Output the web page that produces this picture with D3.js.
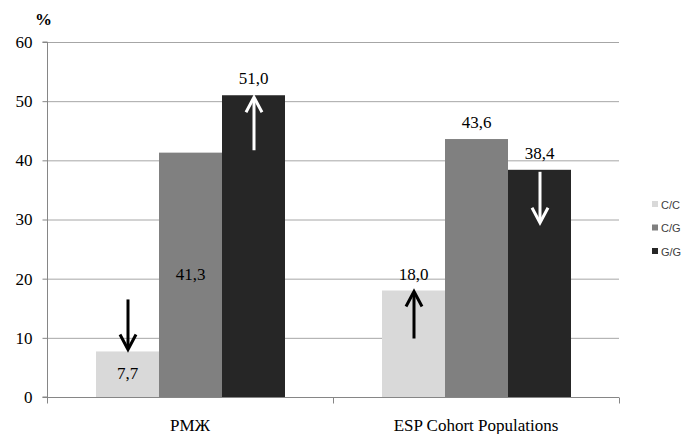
<!DOCTYPE html>
<html><head><meta charset="utf-8">
<script src="https://cdn.jsdelivr.net/npm/d3@7"></script>
<style>body{margin:0;background:#fff} .serif{font-family:"Liberation Serif","Times New Roman","DejaVu Serif",serif}</style>
</head><body><svg id="c" width="684" height="434"></svg>
<script>
const categories = ["РМЖ", "ESP Cohort Populations"];
const genotypes = ["C/C", "C/G", "G/G"];
const valuesCC = [7.7, 18.0];
const valuesCG = [41.3, 43.6];
const valuesGG = [51.0, 38.4];
const labelsCC = ["7,7", "18,0"];
const labelsCG = ["41,3", "43,6"];
const labelsGG = ["51,0", "38,4"];
const yTicks = [0, 10, 20, 30, 40, 50, 60];
const colors = ["#d9d9d9", "#808080", "#262626"];
// arrows: category index, genotype index, direction, colour
const arrows = [
  {cat: 0, g: 0, dir: "down", color: "#000"},
  {cat: 0, g: 2, dir: "up", color: "#fff"},
  {cat: 1, g: 0, dir: "up", color: "#000"},
  {cat: 1, g: 2, dir: "down", color: "#fff"}
];

(function () {
const series = [valuesCC, valuesCG, valuesGG];
const labels = [labelsCC, labelsCG, labelsGG];
const svg = d3.select("#c");
const pL = 47, pR = 619, pT = 42, pB = 397;
const y = d3.scaleLinear().domain([0, 60]).range([pB, pT]);
const x0 = d3.scaleBand().domain(categories).range([pL, pR]).paddingInner(0).paddingOuter(0);
const x1 = d3.scaleBand().domain(genotypes).range([49, x0.bandwidth() - 48]).padding(0);

// gridlines
svg.append("g").selectAll("line").data(yTicks.filter(t => t > 0)).join("line")
  .attr("x1", pL).attr("x2", pR)
  .attr("y1", d => y(d) + 0.5).attr("y2", d => y(d) + 0.5)
  .attr("stroke", "#a6a6a6").attr("stroke-width", 1);

// bars
const g = svg.append("g");
categories.forEach((c, ci) => {
  genotypes.forEach((gt, gi) => {
    const v = series[gi][ci];
    g.append("rect")
      .attr("x", x0(c) + x1(gt)).attr("width", x1.bandwidth())
      .attr("y", y(v)).attr("height", y(0) - y(v))
      .attr("fill", colors[gi]);
  });
});

// y axis
const yAxis = d3.axisLeft(y).tickValues(yTicks).tickSize(5).tickPadding(10).tickFormat(d3.format("d"));
const ya = svg.append("g").attr("transform", `translate(${pL + 0.5},0)`).call(yAxis);
ya.attr("font-family", null).attr("font-size", null);
ya.select(".domain").attr("stroke", "#868686").attr("d", `M-5,${pT}H0V${pB}H-5`);
ya.selectAll(".tick line").attr("stroke", "#868686");
ya.selectAll(".tick text").attr("class", "serif").style("font-size", "17px").attr("fill", "#000");

// x axis
const xa = svg.append("g").attr("transform", `translate(0,${pB + 0.5})`);
xa.append("line").attr("x1", pL).attr("x2", pR).attr("stroke", "#868686");
const tickXs = [pL, x0(categories[1]), pR];
xa.selectAll(".tk").data(tickXs).join("line").attr("class", "tk")
  .attr("x1", d => d + 0.5).attr("x2", d => d + 0.5).attr("y1", 0).attr("y2", 6).attr("stroke", "#868686");
xa.selectAll("text").data(categories).join("text").attr("class", "serif")
  .attr("x", d => x0(d) + x0.bandwidth() / 2).attr("y", 33)
  .attr("text-anchor", "middle").style("font-size", "17px").attr("fill", "#000").text(d => d);

// value labels
categories.forEach((c, ci) => {
  genotypes.forEach((gt, gi) => {
    const v = series[gi][ci];
    let ly;
    if (ci === 0 && gi < 2) ly = (y(0) + y(v)) / 2 + 5;
    else ly = y(v) - 11;
    svg.append("text").attr("class", "serif").attr("x", x0(c) + x1(gt) + x1.bandwidth() / 2).attr("y", ly)
      .attr("text-anchor", "middle").style("font-size", "17px").attr("fill", "#000").text(labels[gi][ci]);
  });
});

// arrows
arrows.forEach(a => {
  const c = categories[a.cat], gt = genotypes[a.g];
  const v = series[a.g][a.cat];
  const cx = x0(c) + x1(gt) + x1.bandwidth() / 2 + 0.5;
  let y1, y2;
  if (a.g === 0 && a.dir === "down") { y1 = y(v) - 52; y2 = y(v) - 2; }
  else if (a.g === 0) { y1 = y(v) + 48; y2 = y(v) + 1; }
  else if (a.dir === "up") { y1 = y(v) + 55; y2 = y(v) + 2; }
  else { y1 = y(v) + 2; y2 = y(v) + 53; }
  const s = y2 > y1 ? 1 : -1;
  svg.append("line").attr("x1", cx).attr("x2", cx).attr("y1", y1).attr("y2", y2 - s * 1)
    .attr("stroke", a.color).attr("stroke-width", 3);
  svg.append("path").attr("d", `M${cx - 8},${y2 - s * 15}L${cx},${y2}L${cx + 8},${y2 - s * 15}`)
    .attr("fill", "none").attr("stroke", a.color).attr("stroke-width", 3).attr("stroke-linejoin", "miter");
});

// % label
svg.append("text").attr("class", "serif").attr("x", 35).attr("y", 25)
  .style("font-size", "17px").attr("font-weight", "bold").attr("fill", "#000").text("%");

// legend
const lg = svg.append("g").attr("transform", "translate(652,0)");
genotypes.forEach((gt, i) => {
  const ly = 205 + i * 23.5;
  lg.append("rect").attr("x", 0).attr("y", ly - 4).attr("width", 6).attr("height", 6).attr("fill", colors[i]);
  lg.append("text").attr("x", 9).attr("y", ly + 3.5).style("font-family", '"Liberation Sans", Arial, sans-serif')
    .style("font-size", "11px").attr("fill", "#404040").text(gt);
});
})();
</script></body></html>
